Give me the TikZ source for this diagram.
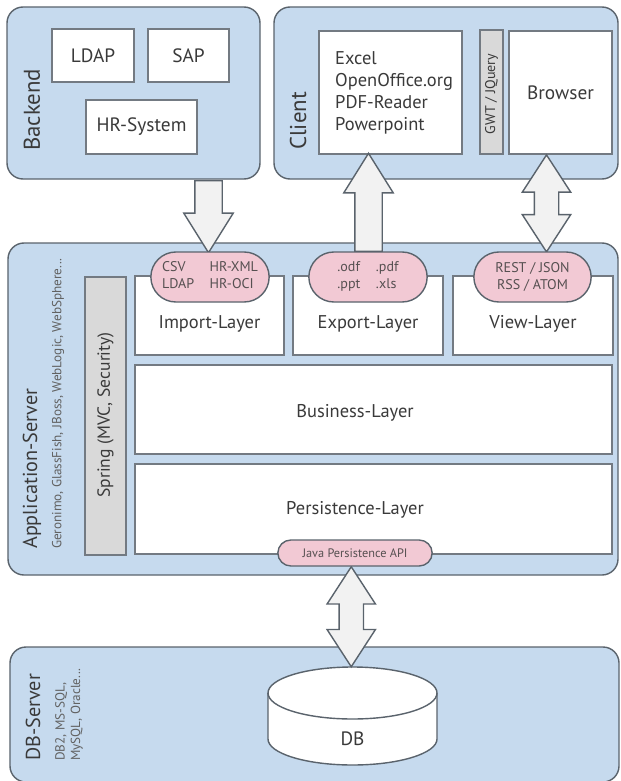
\documentclass[tikz,border=0pt]{standalone}
\usepackage{fontspec}
\setmainfont{PT Sans}
\usepackage{tikz}
\usetikzlibrary{shapes.misc,shapes.arrows,calc}
\definecolor{panelblue}{HTML}{C6DAEE}
\definecolor{edgegray}{HTML}{5A636C}
\definecolor{pillpink}{HTML}{F2C9D4}
\definecolor{stripgray}{HTML}{D9D9D9}
\definecolor{arrowfill}{HTML}{F2F2F2}
\definecolor{inkgray}{HTML}{3A3A3A}

\begin{document}
\begin{tikzpicture}[>=stealth,
	panel/.style={draw=edgegray,fill=panelblue,line width=0.8pt,rounded corners=0.32cm},
	whitebox/.style={draw=edgegray!85,fill=white,line width=0.9pt,text=inkgray,font=\fontsize{11}{13}\selectfont},
	strip/.style={draw=edgegray!85,fill=stripgray,line width=0.9pt,text=inkgray},
	pill/.style={rounded rectangle,draw=edgegray,fill=pillpink,line width=0.8pt,text=inkgray!85!pillpink,font=\fontsize{8}{9.5}\selectfont},
	title/.style={rotate=90,anchor=west,text=inkgray,font=\fontsize{11.5}{13}\selectfont},
	subtitle/.style={rotate=90,anchor=west,text=inkgray!80,font=\fontsize{7.5}{8.8}\selectfont,align=left},
	layer/.style={text=inkgray,font=\fontsize{10.5}{12}\selectfont},
	bigarrow/.style={single arrow,draw=edgegray,fill=arrowfill,line width=0.8pt,inner xsep=0pt,inner ysep=0.26cm,
		single arrow head extend=0.22cm,single arrow tip angle=64},
	twoarrow/.style={double arrow,draw=edgegray,fill=arrowfill,line width=0.8pt,inner xsep=0pt,inner ysep=0.23cm,
		double arrow head extend=0.24cm,double arrow tip angle=66},
	dbline/.style={draw=edgegray,fill=white,line width=0.8pt}]
	\useasboundingbox (0,0) rectangle (12.4,-15.62);

	% panels
	\node[panel,minimum width=5.06cm,minimum height=3.44cm] (backend) at (2.67,-1.86) {};
	\node[panel,minimum width=6.88cm,minimum height=3.44cm] (client) at (8.92,-1.86) {};
	\node[panel,minimum width=12.2cm,minimum height=6.64cm] (appserver) at (6.26,-8.18) {};
	\node[panel,minimum width=12.18cm,minimum height=2.7cm] (dbserver) at (6.29,-14.29) {};

	% backend
	\node[whitebox,minimum width=1.64cm,minimum height=1.06cm] (ldap) at (1.86,-1.11) {LDAP};
	\node[whitebox,minimum width=1.62cm,minimum height=1.06cm] (sap) at (3.77,-1.11) {SAP};
	\node[whitebox,minimum width=2.22cm,minimum height=1.08cm] (hrsys) at (2.83,-2.54) {HR-System};
	\node[title,font=\fontsize{13}{15}\selectfont] at (0.64,-3.14) {Backend};

	% client
	\node[whitebox,minimum width=2.86cm,minimum height=2.46cm] (office) at (7.81,-1.85) {};
	\node[layer,anchor=west,align=left,font=\fontsize{10.5}{12.5}\selectfont] at (6.58,-1.86)
		{Excel\\OpenOffice.org\\PDF-Reader\\Powerpoint};
	\node[strip,minimum width=0.46cm,minimum height=2.48cm] (gwt) at (9.83,-1.84) {};
	\node[rotate=90,text=inkgray,font=\fontsize{8}{9}\selectfont] at (9.83,-1.88) {GWT / JQuery};
	\node[whitebox,minimum width=2.06cm,minimum height=2.46cm] (browser) at (11.21,-1.85) {Browser};
	\node[title,font=\fontsize{13}{15}\selectfont] at (5.96,-3.12) {Client};

	% application server
	\node[strip,minimum width=0.82cm,minimum height=5.56cm] (spring) at (2.11,-8.32) {};
	\node[rotate=90,text=inkgray,font=\fontsize{10}{12}\selectfont] at (2.11,-8.3) {Spring (MVC, Security)};
	\node[whitebox,minimum width=2.98cm,minimum height=1.58cm] (import) at (4.19,-6.31) {};
	\node[whitebox,minimum width=3.0cm,minimum height=1.58cm] (export) at (7.36,-6.31) {};
	\node[whitebox,minimum width=3.2cm,minimum height=1.58cm] (view) at (10.66,-6.31) {};
	\node[whitebox,minimum width=9.54cm,minimum height=1.78cm] (business) at (7.47,-8.19) {};
	\node[whitebox,minimum width=9.54cm,minimum height=1.8cm] (persistence) at (7.47,-10.18) {};
	\node[layer] at (4.19,-6.48) {Import-Layer};
	\node[layer] at (7.36,-6.48) {Export-Layer};
	\node[layer] at (10.66,-6.48) {View-Layer};
	\node[layer] at (7.1,-8.26) {Business-Layer};
	\node[layer] at (7.1,-10.2) {Persistence-Layer};
	\node[title] at (0.64,-11.1) {Application-Server};
	\node[subtitle] at (1.16,-11.1) {Geronimo, GlassFish, JBoss, WebLogic, WebSphere...};

	% db server
	\draw[dbline] (5.36,-13.86) -- (5.36,-14.78)
		arc[start angle=180,end angle=360,x radius=1.69cm,y radius=0.52cm]
		-- (8.74,-13.86) arc[start angle=0,end angle=180,x radius=1.69cm,y radius=0.52cm] -- cycle;
	\draw[dbline,fill=none] (5.36,-13.86) arc[start angle=180,end angle=360,x radius=1.69cm,y radius=0.52cm];
	\coordinate (dbtop) at (7.05,-13.34);
	\node[text=inkgray,font=\fontsize{11}{13}\selectfont] (db) at (7.05,-14.78) {DB};
	\node[title] at (0.66,-15.34) {DB-Server};
	\node[subtitle] at (1.38,-15.34) {DB2, MS-SQL,\\MySQL, Oracle...};

	% arrows
	\node[bigarrow,rotate=-90,minimum height=1.44cm,anchor=tail] (backarrow) at (4.17,-3.6) {};
	\node[bigarrow,rotate=90,minimum height=1.96cm,anchor=tail] (exparrow) at (7.37,-5.04) {};
	\node[twoarrow,rotate=90,minimum height=1.94cm] (viewarrow) at ($(browser.south)!0.5!(10.65,-5.04)$) {};
	\node[twoarrow,rotate=90,minimum height=2.0cm] (dbarrow) at ($(dbtop)!0.5!(7.0,-11.33)$) {};

	% pills
	\node[pill,minimum width=2.6cm,minimum height=1.0cm] (importpill) at (4.2,-5.54)
		{\begin{tabular}{@{}l@{\hspace{1.1em}}l@{}}CSV&HR-XML\\LDAP&HR-OCI\end{tabular}};
	\node[pill,minimum width=2.6cm,minimum height=1.0cm] (exportpill) at (7.36,-5.54)
		{\begin{tabular}{@{}l@{\hspace{1.1em}}l@{}}.odf&.pdf\\.ppt&.xls\end{tabular}};
	\node[pill,minimum width=2.58cm,minimum height=1.0cm,align=center] (viewpill) at (10.65,-5.54)
		{REST / JSON\\RSS / ATOM};
	\node[pill,minimum width=3.32cm,minimum height=0.52cm,font=\fontsize{7}{8}\selectfont] (jpapill) at (7.1,-11.06)
		{Java Persistence API};
\end{tikzpicture}
\end{document}
